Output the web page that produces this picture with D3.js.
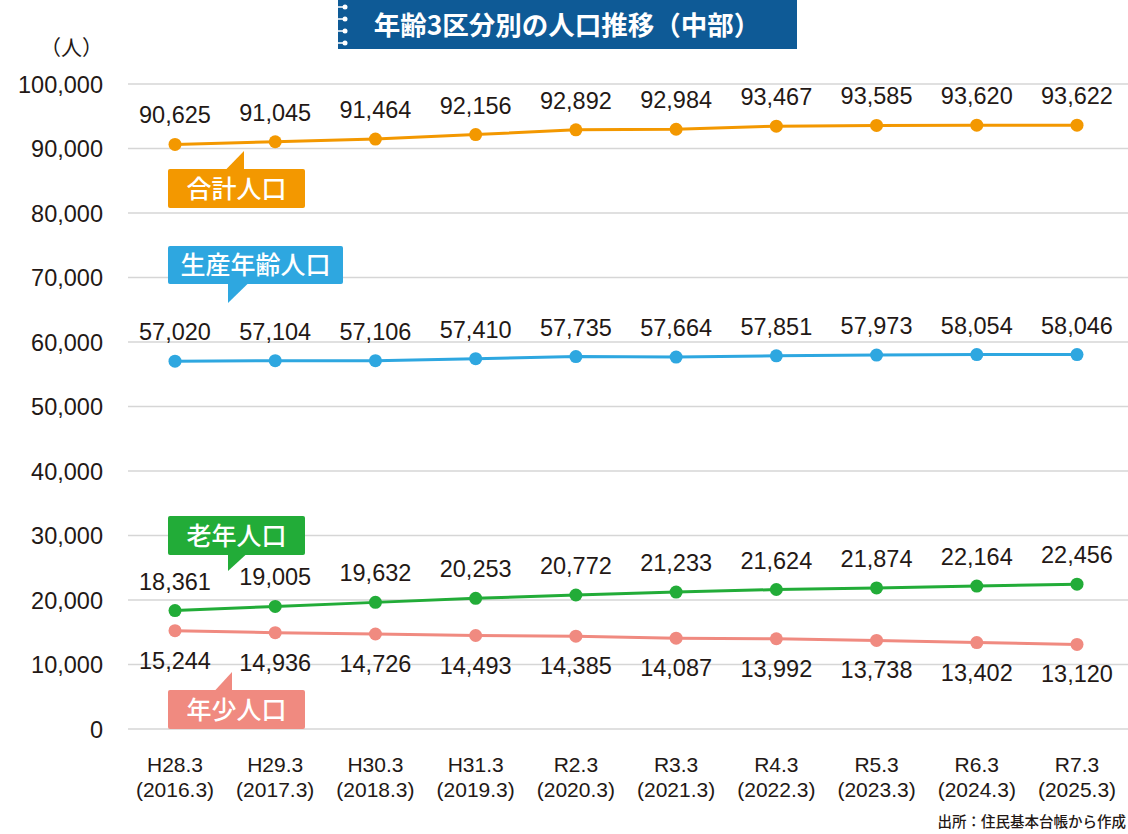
<!DOCTYPE html>
<html><head><meta charset="utf-8">
<script src="https://cdn.jsdelivr.net/npm/d3@7"></script>
<style>
html,body{margin:0;padding:0;background:#fff;}
svg{display:block;}
</style></head>
<body>
<svg id="c" width="1128" height="834"></svg>
<script>
const categories = ["H28.3","H29.3","H30.3","H31.3","R2.3","R3.3","R4.3","R5.3","R6.3","R7.3"];
const categoryYears = ["2016.3","2017.3","2018.3","2019.3","2020.3","2021.3","2022.3","2023.3","2024.3","2025.3"];
const totalPop = [90625,91045,91464,92156,92892,92984,93467,93585,93620,93622];
const workingPop = [57020,57104,57106,57410,57735,57664,57851,57973,58054,58046];
const elderlyPop = [18361,19005,19632,20253,20772,21233,21624,21874,22164,22456];
const youthPop = [15244,14936,14726,14493,14385,14087,13992,13738,13402,13120];
const seriesNames = ["合計人口","生産年齢人口","老年人口","年少人口"];
const yTicks = [0,10000,20000,30000,40000,50000,60000,70000,80000,90000,100000];
const titleText = "年齢3区分別の人口推移（中部）";
const unitText = "（人）";
const sourceText = "出所：住民基本台帳から作成";

const svg = d3.select("#c");
const x = d3.scalePoint().domain(categories).range([175, 1077]);
const y = d3.scaleLinear().domain([0, 100000]).range([729, 84]);
const fmt = d3.format(",");
const numFont = "'Liberation Sans', Arial, Helvetica, sans-serif";
const jpFont = "'Noto Sans CJK JP', 'Noto Sans', sans-serif";

// gridlines
svg.append("g").selectAll("line").data(yTicks).join("line")
  .attr("x1", 128).attr("x2", 1128)
  .attr("y1", d => y(d)).attr("y2", d => y(d))
  .attr("stroke", "#d6d6d6").attr("stroke-width", 1.5);

// y axis labels
const yAxis = d3.axisLeft(y).tickValues(yTicks).tickFormat(fmt).tickSize(0).tickPadding(0);
const ya = svg.append("g").attr("transform", "translate(103,0)").call(yAxis);
ya.select(".domain").remove();
ya.selectAll("text").attr("font-family", numFont).attr("font-size", 23.5).attr("fill", "#231815").attr("dy", "0.35em");

svg.append("text").attr("x", 103).attr("y", 55).attr("text-anchor", "end")
  .attr("font-family", jpFont).attr("font-size", 21).attr("fill", "#231815").text(unitText);

// x axis labels
const xa = svg.append("g");
categories.forEach((c, i) => {
  const t = xa.append("text").attr("x", x(c)).attr("text-anchor", "middle")
    .attr("font-family", numFont).attr("font-size", 21).attr("fill", "#231815");
  t.append("tspan").attr("x", x(c)).attr("y", 772).text(c);
  t.append("tspan").attr("x", x(c)).attr("y", 797).text("(" + categoryYears[i] + ")");
});

// series
const series = [
  {name: seriesNames[0], values: totalPop, color: "#F39800", pos: "above"},
  {name: seriesNames[1], values: workingPop, color: "#2EA7E0", pos: "above"},
  {name: seriesNames[2], values: elderlyPop, color: "#22AC38", pos: "above"},
  {name: seriesNames[3], values: youthPop, color: "#F08A80", pos: "below"}
];
const line = d3.line().x((d, i) => x(categories[i])).y(d => y(d));
series.forEach(s => {
  const g = svg.append("g");
  g.append("path").datum(s.values).attr("d", line).attr("fill", "none")
    .attr("stroke", s.color).attr("stroke-width", 3);
  g.selectAll("circle").data(s.values).join("circle")
    .attr("cx", (d, i) => x(categories[i])).attr("cy", d => y(d)).attr("r", 6.5)
    .attr("fill", s.color);
  g.selectAll("text").data(s.values).join("text")
    .attr("x", (d, i) => x(categories[i]))
    .attr("y", d => s.pos === "above" ? y(d) - 21 : y(d) + 38)
    .attr("text-anchor", "middle").attr("font-family", numFont).attr("font-size", 23.5)
    .attr("fill", "#231815").text(d => fmt(d));
});

// callouts (layout)
const callouts = [
  {i: 0, rect: [168,169,137,39], tri: [[226,169.5],[244,151],[244,169.5]], tc: [236.5,189]},
  {i: 1, rect: [168,246,175,38], tri: [[228,283.5],[228,303],[248,283.5]], tc: [255.5,265]},
  {i: 2, rect: [168,516,137,39], tri: [[228,554.5],[228,571],[246,554.5]], tc: [236.5,535.5]},
  {i: 3, rect: [168,690,137,39], tri: [[215,690.5],[232,672],[232,690.5]], tc: [236.5,709.5]}
];
callouts.forEach(c => {
  const s = series[c.i];
  const g = svg.append("g");
  g.append("rect").attr("x", c.rect[0]).attr("y", c.rect[1]).attr("width", c.rect[2]).attr("height", c.rect[3])
    .attr("rx", 2).attr("fill", s.color);
  g.append("path").attr("d", d3.line()(c.tri) + "Z").attr("fill", s.color);
  g.append("text").attr("x", c.tc[0]).attr("y", c.tc[1]).attr("dy", "0.36em").attr("text-anchor", "middle")
    .attr("font-family", jpFont).attr("font-size", 25).attr("font-weight", 500).attr("fill", "#fff").text(s.name);
});

// title
const tg = svg.append("g");
tg.append("rect").attr("x", 338).attr("y", 0).attr("width", 459).attr("height", 49).attr("fill", "#0E5A96");
[7, 19, 31, 43].forEach(cy => {
  tg.append("line").attr("x1", 338).attr("x2", 345).attr("y1", cy).attr("y2", cy).attr("stroke", "#fff").attr("stroke-width", 1.5);
  tg.append("circle").attr("cx", 345).attr("cy", cy).attr("r", 2.5).attr("fill", "#fff");
});
tg.append("text").attr("x", 567).attr("y", 25).attr("dy", "0.36em").attr("text-anchor", "middle")
  .attr("font-family", jpFont).attr("font-size", 26.5).attr("font-weight", 700).attr("fill", "#fff").text(titleText);

// source
svg.append("text").attr("x", 1126).attr("y", 827).attr("text-anchor", "end")
  .attr("font-family", jpFont).attr("font-size", 14.5).attr("font-weight", 500).attr("fill", "#231815").text(sourceText);
</script>
</body></html>
